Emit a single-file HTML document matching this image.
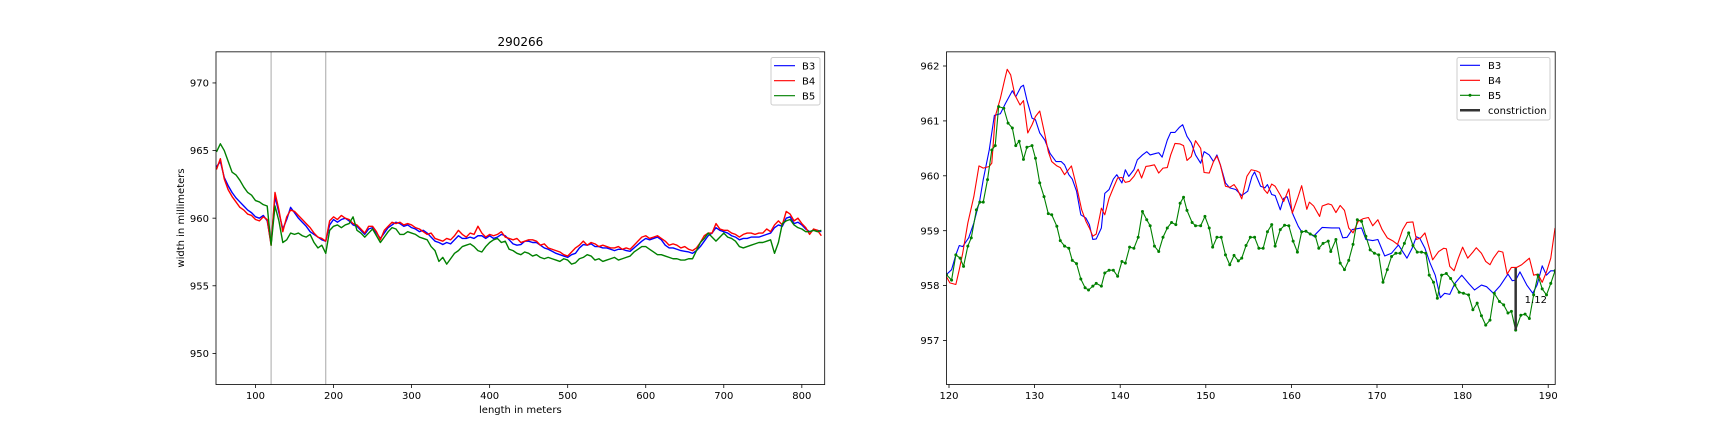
<!DOCTYPE html>
<html>
<head>
<meta charset="utf-8">
<style>
  html,body{margin:0;padding:0;background:#fff;}
  svg{display:block;font-family:"DejaVu Sans","Liberation Sans",sans-serif;}
</style>
</head>
<body>
<svg id="fig" width="1728" height="432" viewBox="0 0 1728 432" xmlns="http://www.w3.org/2000/svg">
  <rect x="0" y="0" width="1728" height="432" fill="#fff"/>
  <g id="left"></g>
  <g id="right"></g>
</svg>
<script>
// ---------- LEFT CHART DATA ----------
const leftStart = 50;
const leftStep = 5;
const leftB3 = [
963.8,964.2,963.0,962.4,961.9,961.5,961.2,960.9,960.6,960.4,
960.1,960.0,960.2,959.8,958.1,961.6,960.4,959.2,959.9,960.8,
960.4,960.0,959.7,959.4,959.0,958.8,958.6,958.4,958.3,959.5,
959.9,959.7,959.9,960.0,959.8,959.5,959.4,959.1,958.8,959.2,
959.3,958.9,958.5,958.9,959.3,959.5,959.7,959.6,959.4,959.5,
959.3,959.2,959.0,959.1,958.9,958.6,958.3,958.2,958.05,958.2,
958.1,958.4,958.7,958.5,958.5,958.6,958.5,958.7,958.7,958.5,
958.7,958.5,958.6,958.8,958.7,958.4,958.1,958.0,958.05,958.3,
958.3,958.2,958.2,958.0,957.8,957.7,957.55,957.4,957.3,957.2,
957.1,957.3,957.4,957.8,958.05,958.0,958.1,957.9,957.9,957.8,
957.8,957.7,957.6,957.7,957.7,957.6,957.55,957.8,958.05,958.3,
958.5,958.4,958.5,958.6,958.4,958.0,957.8,957.8,957.7,957.6,
957.55,957.5,957.4,957.6,957.9,958.3,958.7,958.9,959.3,959.1,
959.0,958.9,958.7,958.6,958.4,958.5,958.5,958.6,958.6,958.6,
958.7,958.8,958.9,959.3,959.5,959.4,960.0,960.1,959.6,959.7,
959.5,959.2,959.0,959.1,959.1,959.0];
const leftB4 = [
963.6,964.4,962.9,962.1,961.6,961.2,960.8,960.6,960.3,960.2,
959.9,959.8,960.1,959.9,958.0,961.9,960.6,959.0,960.1,960.6,
960.5,960.2,959.9,959.6,959.3,958.9,958.6,958.5,958.3,959.8,
960.1,959.9,960.2,960.0,959.9,959.6,959.5,959.2,958.9,959.4,
959.4,959.0,958.4,959.1,959.4,959.7,959.6,959.7,959.5,959.6,
959.5,959.3,959.2,959.0,958.8,958.9,958.5,958.4,958.3,958.5,
958.4,958.7,959.1,958.8,958.6,958.9,958.8,959.4,958.9,958.6,
958.8,958.7,958.8,959.0,958.6,958.5,958.4,958.5,958.2,958.3,
958.4,958.4,958.3,958.0,958.1,957.8,957.7,957.6,957.5,957.3,
957.2,957.5,957.8,958.0,958.3,958.0,958.2,958.1,957.9,958.0,
957.9,957.8,957.8,957.9,957.7,957.8,957.7,958.0,958.3,958.6,
958.7,958.5,958.6,958.7,958.5,958.3,958.0,958.1,958.0,957.8,
957.9,957.7,957.6,957.8,958.2,958.7,958.9,958.9,959.6,959.2,
959.1,959.1,958.9,958.8,958.6,958.8,958.9,958.9,958.8,958.9,
958.9,959.2,959.0,959.5,959.8,959.5,960.5,960.3,959.8,960.0,
959.6,959.3,958.8,959.2,959.1,958.7];
const leftB5 = [
964.9,965.5,965.0,964.2,963.4,963.2,962.8,962.3,961.9,961.7,
961.3,961.2,961.0,960.9,958.0,960.9,959.8,958.2,958.4,958.9,
958.8,958.9,958.7,958.6,958.8,958.2,957.8,958.0,957.4,959.1,
959.4,959.5,959.3,959.5,959.6,960.1,959.1,958.9,958.6,958.9,
959.2,958.7,958.2,958.6,959.0,959.3,959.2,958.8,958.8,959.0,
958.9,958.8,958.6,958.5,958.4,957.9,957.6,956.8,957.1,956.6,
957.0,957.4,957.6,957.9,958.0,958.1,957.9,957.6,957.5,957.9,
958.2,958.4,958.5,958.2,958.3,957.7,957.6,957.4,957.3,957.5,
957.4,957.2,957.3,957.1,957.0,957.1,957.0,956.9,956.8,957.0,
956.9,956.6,956.7,957.0,957.1,957.3,957.2,956.9,957.0,956.8,
956.9,957.0,957.1,956.9,957.0,957.1,957.2,957.5,957.7,957.9,
957.9,957.7,957.5,957.3,957.3,957.2,957.1,957.0,957.0,956.9,
956.9,957.0,957.0,957.6,958.2,958.5,958.9,958.6,958.3,958.6,
958.9,958.6,958.5,958.3,957.9,957.8,957.9,958.0,958.1,958.2,
958.2,958.3,958.4,957.4,958.2,959.6,959.8,959.9,959.5,959.3,
959.2,959.0,959.0,959.1,959.0,959.1];
const leftXTicks = [100,200,300,400,500,600,700,800];
const leftYTicks = [950,955,960,965,970];
const leftMarkers = [120,190];

// ---------- RIGHT CHART DATA ----------
const rB3x = [119.7,120.3,120.8,121.2,121.6,122.3,122.9,123.6,124.0,124.7,125.3,126.0,126.6,127.4,127.8,128.4,128.7,129.1,129.7,130.1,130.6,131.2,131.8,132.5,133.1,133.5,134.0,134.4,134.9,135.4,136.0,136.4,136.8,137.2,137.8,138.2,138.7,139.2,139.6,140.2,140.6,141.0,141.6,142.0,142.6,143.1,143.5,144.2,144.5,144.9,145.5,145.9,146.4,146.9,147.3,147.8,148.3,148.8,149.4,149.8,150.4,150.9,151.3,151.7,152.3,152.8,153.5,154.2,154.9,155.4,155.7,156.4,156.9,157.2,157.7,158.1,158.7,159.1,159.5,160.2,160.8,161.2,161.7,162.6,163.6,164.7,165.6,166.0,166.5,167.1,168.2,168.7,169.5,170.1,170.9,171.7,172.5,173.5,174.1,174.6,175.0,175.6,176.2,176.8,177.4,177.9,178.5,179.1,179.9,180.7,181.4,182.2,182.8,183.6,184.4,185.3,185.8,186.2,186.7,187.5,188.2,188.7,189.3,189.8,190.3,190.8];
const rB3y = [958.2,958.29,958.56,958.73,958.71,958.87,959.14,959.56,959.93,960.47,961.1,961.13,961.32,961.55,961.44,961.62,961.65,961.38,961.05,961.02,960.78,960.65,960.41,960.26,960.26,960.2,960.02,959.94,959.72,959.29,959.23,959.11,958.84,958.85,959.05,959.68,959.75,959.94,960.02,959.87,960.11,959.99,960.11,960.29,960.38,960.44,960.38,960.41,960.42,960.34,960.65,960.79,960.79,960.88,960.93,960.72,960.6,960.38,960.23,960.44,960.38,960.26,960.38,960.2,959.87,959.78,959.75,959.64,959.72,959.99,960.07,959.81,959.78,959.84,959.66,959.64,959.38,959.59,959.62,959.29,959.08,958.98,958.99,958.9,959.06,959.05,959.05,958.87,958.88,959.02,959.05,958.84,958.82,958.84,958.54,958.59,958.74,958.5,958.68,958.89,958.86,958.68,958.41,958.19,957.78,957.86,957.84,958.04,958.19,958.04,957.92,958.01,957.98,957.86,958.0,958.21,958.09,958.1,958.25,958.01,957.86,958.01,958.36,958.19,958.27,958.27];
const rB4x = [119.7,120.1,120.8,121.2,121.6,122.2,122.9,123.5,124.0,124.7,125.0,125.4,126.0,126.5,126.8,127.2,127.7,128.3,128.7,129.2,129.7,130.1,130.6,131.2,131.6,132.0,132.6,133.0,133.5,133.9,134.3,134.9,135.5,136.0,136.4,136.8,137.2,137.8,138.2,138.7,139.2,139.7,140.2,140.6,141.1,141.6,142.1,142.5,143.0,143.4,144.0,144.5,145.0,145.5,145.9,146.4,147.0,147.4,147.8,148.3,148.8,149.4,149.8,150.4,150.9,151.3,151.7,152.3,152.8,153.3,153.7,154.2,154.8,155.3,155.9,156.3,156.8,157.2,157.7,158.1,158.7,159.1,159.7,160.1,160.7,161.2,161.8,162.1,162.6,163.3,163.6,164.3,164.7,165.2,165.7,166.2,166.7,167.2,167.8,168.4,169.0,169.5,170.1,170.6,171.2,171.9,172.4,173.0,173.5,174.2,174.6,175.1,175.6,176.0,176.5,177.2,177.8,178.1,178.5,179.0,179.5,180.0,180.6,181.2,181.6,182.2,182.7,183.2,183.6,184.2,184.7,185.2,185.7,186.3,186.9,187.8,188.3,188.8,189.3,189.8,190.3,190.8];
const rB4y = [958.16,958.05,958.02,958.29,958.59,959.14,959.62,960.18,960.14,960.17,960.23,961.08,961.41,961.75,961.94,961.84,961.47,961.29,961.37,960.78,960.93,961.08,961.18,960.75,960.44,960.26,960.18,960.15,960.02,960.1,960.18,959.81,959.38,959.17,959.05,958.9,958.94,959.41,959.29,959.59,959.78,959.96,959.97,959.88,959.9,959.99,960.12,959.96,960.17,960.18,960.2,960.05,960.14,960.15,960.38,960.59,960.58,960.55,960.28,960.35,960.64,960.5,960.06,960.05,960.26,960.36,960.2,959.81,959.79,959.84,959.75,959.58,959.99,960.11,960.09,960.06,959.75,959.68,959.85,959.81,959.65,959.53,959.76,959.32,959.58,959.82,959.39,959.52,959.45,959.26,959.45,959.49,959.47,959.33,959.46,959.37,959.05,958.96,959.17,959.22,959.24,959.09,959.2,959.02,958.87,958.81,958.75,959.02,959.15,959.16,958.84,958.87,958.96,958.74,958.47,958.62,958.68,958.67,958.35,958.27,958.5,958.7,958.5,958.61,958.69,958.59,958.44,958.38,958.5,958.63,958.61,958.21,958.33,958.33,958.38,958.5,958.19,958.21,958.06,958.25,958.5,959.05];
const rB5x = [119.7,120.3,120.8,121.3,121.7,122.2,122.6,123.2,123.6,124.0,124.5,125.0,125.4,125.8,126.4,126.9,127.4,127.8,128.2,128.7,129.1,129.7,130.1,130.6,131.1,131.6,132.0,132.6,133.0,133.5,134.0,134.4,134.9,135.4,135.9,136.3,136.8,137.2,137.8,138.2,138.7,139.2,139.7,140.2,140.6,141.1,141.6,142.1,142.6,143.1,143.5,144.0,144.5,145.0,145.5,146.0,146.5,147.0,147.4,147.8,148.4,148.8,149.4,149.9,150.4,150.8,151.3,151.8,152.3,152.8,153.3,153.8,154.2,154.7,155.2,155.7,156.2,156.7,157.2,157.7,158.1,158.7,159.2,159.7,160.2,160.7,161.2,161.7,162.2,162.8,163.2,163.7,164.3,164.6,165.2,165.7,166.2,166.7,167.2,167.7,168.2,168.7,169.2,169.7,170.2,170.7,171.2,171.7,172.2,172.7,173.2,173.7,174.2,174.7,175.2,175.7,176.1,176.6,177.05,177.55,178.1,178.6,179.1,179.6,180.1,180.7,181.2,181.7,182.2,182.7,183.2,183.7,184.3,184.8,185.3,185.7,186.2,186.8,187.3,187.8,188.3,188.8,189.3,189.8,190.3,190.8];
const rB5y = [958.2,958.1,958.56,958.5,958.35,958.72,958.87,959.38,959.52,959.52,959.93,960.47,960.55,961.26,961.23,960.96,960.87,960.55,960.63,960.3,960.52,960.55,960.32,959.87,959.62,959.31,959.29,959.08,958.82,958.72,958.68,958.46,958.4,958.12,957.96,957.92,957.99,958.04,957.99,958.23,958.28,958.28,958.17,958.44,958.41,958.7,958.68,958.88,959.35,959.2,959.09,958.72,958.62,958.88,959.05,959.15,959.11,959.5,959.61,959.37,959.15,959.09,959.09,959.26,959.05,958.7,958.88,958.88,958.56,958.38,958.55,958.45,958.5,958.73,958.88,958.88,958.68,958.68,958.98,959.11,958.72,959.02,959.1,959.09,958.81,958.61,958.98,958.99,958.94,958.9,958.68,958.77,958.81,958.62,958.84,958.41,958.29,958.46,958.75,959.2,959.17,958.9,958.65,958.59,958.56,958.06,958.29,958.53,958.59,958.59,958.77,958.96,958.73,958.61,958.61,958.59,958.19,958.06,957.77,958.19,958.22,958.13,958.01,957.88,957.86,957.83,957.56,957.68,957.45,957.28,957.37,957.86,957.71,957.65,957.5,957.53,957.19,957.46,957.48,957.4,957.83,958.19,957.94,957.83,958.04,958.27];
const constrictionX = 186.2;
const constrictionTop = 958.32;
const constrictionBottom = 957.19;
const constrictionLabel = "1.12";
const rightXTicks = [120,130,140,150,160,170,180,190];
const rightYTicks = [957,958,959,960,961,962];

// ---------- helpers ----------
const NS = "http://www.w3.org/2000/svg";
const FS = 10;
function mk(tag, attrs, parent, text){
  const e = document.createElementNS(NS, tag);
  for (const k in attrs) e.setAttribute(k, attrs[k]);
  if (text !== undefined) e.textContent = text;
  parent.appendChild(e);
  return e;
}
function scale(d0,d1,p0,p1){ return v => p0 + (v-d0)*(p1-p0)/(d1-d0); }

function drawAxes(g, box, xs, ys, xt, yt){
  for (const t of xt){
    const x = xs(t);
    const tk = mk("line",{x1:x,x2:x,y1:box.b,y2:box.b+3.5,stroke:"#000","stroke-width":0.8},g);
    
    
    const lb = mk("text",{x:x,y:box.b+14.5,"font-size":FS,"text-anchor":"middle",fill:"#000"},g,String(t));
    
    
  }
  for (const t of yt){
    const y = ys(t);
    const tk = mk("line",{x1:box.l-3.5,x2:box.l,y1:y,y2:y,stroke:"#000","stroke-width":0.8},g);
    
    
    const lb = mk("text",{x:box.l-7,y:y+3.6,"font-size":FS,"text-anchor":"end",fill:"#000"},g,String(t));
    
    
  }
}
function frame(g, box){
  const f = mk("rect",{x:box.l,y:box.t,width:box.r-box.l,height:box.b-box.t,fill:"none",stroke:"#000","stroke-width":0.8},g);
  
  
}
function polyline(g, pts, color, name, w){
  const p = mk("polyline",{points:pts.map(p=>p[0].toFixed(2)+","+p[1].toFixed(2)).join(" "),fill:"none",stroke:color,"stroke-width":w||1.1,"stroke-linejoin":"round"},g);
  
  
  return p;
}

// ---------- LEFT ----------
(function(){
  const g = document.getElementById("left");
  const box = {l:216, r:824.7, t:51.84, b:384.5};
  const xs = scale(49.4, 829.3, box.l, box.r);
  const ys = scale(947.7, 972.3, box.b, box.t);
  const cid = "clipL";
  const cp = mk("clipPath",{id:cid},g);
  mk("rect",{x:box.l,y:box.t,width:box.r-box.l,height:box.b-box.t},cp);
  const plot = mk("g",{"clip-path":"url(#"+cid+")"},g);
  
  
  for (const m of leftMarkers){
    const l = mk("line",{x1:xs(m),x2:xs(m),y1:box.t,y2:box.b,stroke:"#b0b0b0","stroke-width":1.1},plot);
    
    
  }
  const order = [[leftB3,"#0000ff","series-b3"],[leftB4,"#ff0000","series-b4"],[leftB5,"#008000","series-b5"]];
  for (const [arr,c,n] of order){
    polyline(plot, arr.map((v,i)=>[xs(leftStart+i*leftStep), ys(v)]), c, n, 1.4);
  }
  frame(g, box);
  drawAxes(g, box, xs, ys, leftXTicks, leftYTicks);
  const t = mk("text",{x:(box.l+box.r)/2,y:46,"font-size":12,"text-anchor":"middle",fill:"#000"},g,"290266");
  
  
  const xl = mk("text",{x:(box.l+box.r)/2,y:413,"font-size":FS,"text-anchor":"middle",fill:"#000"},g,"length in meters");
  
  
  const yl = mk("text",{x:0,y:0,"font-size":FS,"text-anchor":"middle",fill:"#000",transform:"translate(184,218) rotate(-90)"},g,"width in millimeters");
  
  
  const lg = mk("g",{},g);
  
  
  mk("rect",{x:771,y:57.5,width:49,height:47.5,rx:2,fill:"#fff","fill-opacity":0.8,stroke:"#cccccc","stroke-width":1},lg);
  const ents = [["B3","#0000ff",65.7],["B4","#ff0000",80.7],["B5","#008000",95.7]];
  for (const [name,c,y] of ents){
    const e = mk("g",{},lg);
    
    
    mk("line",{x1:774,x2:795,y1:y,y2:y,stroke:c,"stroke-width":1.2},e);
    mk("text",{x:802,y:y+3.6,"font-size":FS,fill:"#000"},e,name);
  }
})();

// ---------- RIGHT ----------
(function(){
  const g = document.getElementById("right");
  const box = {l:946.5, r:1555.2, t:51.84, b:384.5};
  const xs = scale(120, 190, 949, 1548.2);
  const ys = scale(957, 962, 340.5, 66);
  const cid = "clipR";
  const cp = mk("clipPath",{id:cid},g);
  mk("rect",{x:box.l,y:box.t,width:box.r-box.l,height:box.b-box.t},cp);
  const plot = mk("g",{"clip-path":"url(#"+cid+")"},g);
  
  
  polyline(plot, rB3x.map((x,i)=>[xs(x), ys(rB3y[i])]), "#0000ff", "series-b3", 1.1);
  polyline(plot, rB4x.map((x,i)=>[xs(x), ys(rB4y[i])]), "#ff0000", "series-b4", 1.1);
  polyline(plot, rB5x.map((x,i)=>[xs(x), ys(rB5y[i])]), "#008000", "series-b5", 1.1);
  for (let i=0;i<rB5x.length;i++){
    const c = mk("circle",{cx:xs(rB5x[i]),cy:ys(rB5y[i]),r:1.5,fill:"#008000"},plot);
    
    
  }
  const cl = mk("line",{x1:xs(constrictionX),x2:xs(constrictionX),y1:ys(constrictionTop),y2:ys(constrictionBottom),stroke:"#333","stroke-width":2.5},plot);
  
  
  const ct = mk("text",{x:xs(constrictionX)+9,y:ys((constrictionTop+constrictionBottom)/2)+4,"font-size":FS,fill:"#000"},plot,constrictionLabel);
  
  
  frame(g, box);
  drawAxes(g, box, xs, ys, rightXTicks, rightYTicks);
  const lg = mk("g",{},g);
  
  
  mk("rect",{x:1457,y:57.5,width:93,height:62.5,rx:2,fill:"#fff","fill-opacity":0.8,stroke:"#cccccc","stroke-width":1},lg);
  const ents = [["B3","#0000ff",65.3,1.2],["B4","#ff0000",80.3,1.2],["B5","#008000",95.3,1.2],["constriction","#333",110.3,2.5]];
  for (const [name,c,y,w] of ents){
    const e = mk("g",{},lg);
    
    
    mk("line",{x1:1460,x2:1480,y1:y,y2:y,stroke:c,"stroke-width":w},e);
    if (name==="B5") mk("circle",{cx:1470,cy:y,r:1.5,fill:c},e);
    mk("text",{x:1488,y:y+3.6,"font-size":FS,fill:"#000"},e,name);
  }
})();
</script>
</body>
</html>
